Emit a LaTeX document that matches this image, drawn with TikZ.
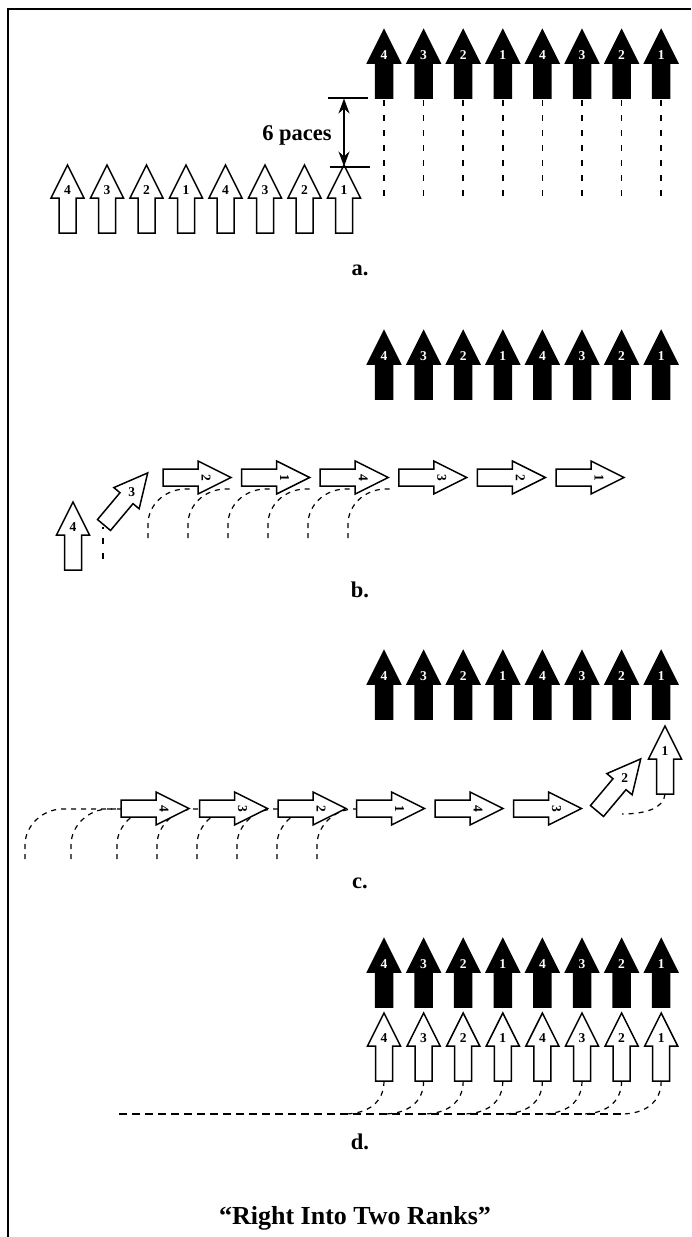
\documentclass[tikz,border=0pt]{standalone}
\usepackage{fontspec}
\setmainfont{Liberation Serif}
\usetikzlibrary{arrows.meta}
\tikzset{
  pics/soldier/.style n args={3}{code={
    \path[#1] (0,0) -- (-8.5,0) -- (-8.5,-35) -- (-16.5,-35) -- (0,-68)
      -- (16.5,-35) -- (8.5,-35) -- (8.5,0) -- cycle;
    \coordinate (-tail) at (0,0);
    \node[#2] (-num) at (0,-43) {#3};
  }},
  solbase/.style={line width=1.5pt, line join=miter, draw=black},
  wsol/.style={solbase, fill=white},
  bsol/.style={solbase, fill=black},
  wdig/.style={font=\bfseries\fontsize{13.5}{13.5}\selectfont, text=black, inner sep=0pt},
  bdig/.style={font=\bfseries\fontsize{13.5}{13.5}\selectfont, text=white, inner sep=0pt},
  guide/.style={line width=1.6pt, dash pattern=on 6pt off 9pt},
  track/.style={line width=1.2pt, dash pattern=on 5pt off 5pt},
  baseline/.style={line width=1.4pt, dash pattern=on 8pt off 5pt},
  panellabel/.style={font=\bfseries\fontsize{22.5}{26}\selectfont, inner sep=0pt},
  titlelabel/.style={font=\bfseries\fontsize{26}{30}\selectfont, inner sep=0pt},
  frameline/.style={line width=2pt},
  dimtip/.style={line width=1.6pt, {Stealth[length=15pt,width=11pt]}-{Stealth[length=15pt,width=11pt]}},
}
\begin{document}
\begin{tikzpicture}[x=1pt,y=-1pt]
\useasboundingbox (0,0) rectangle (691,1237);
% frame
\coordinate (fbl) at (7.5,1237);
\coordinate (ftl) at (7.5,8.5);
\coordinate (ftr) at (691,8.5);
\draw[frameline] (fbl) -- (ftl) -- (ftr);

% ---------- panel a ----------
\foreach \i/\n in {0/4,1/3,2/2,3/1,4/4,5/3,6/2,7/1}{
  \coordinate (ag\i) at ({384+39.6*\i},100);
  \coordinate (ah\i) at ({384+39.6*\i},197);
  \draw[guide] (ag\i) -- (ah\i);
  \pic (ab\i) at ({384+39.6*\i},98) {soldier={bsol}{bdig}{\n}};
  \pic (aw\i) at ({67.5+39.5*\i},233) {soldier={wsol}{wdig}{\n}};
}
\coordinate (t1a) at (328,98);  \coordinate (t1b) at (368,98);
\coordinate (t2a) at (330,167); \coordinate (t2b) at (370,167);
\draw[line width=1.3pt] (t1a) -- (t1b);
\draw[line width=1.3pt] (t2a) -- (t2b);
\coordinate (dm1) at (344,98.5);
\coordinate (dm2) at (344,166.5);
\draw[dimtip] (dm1) -- (dm2);
\node[panellabel] (paces) at (297,135) {6 paces};
\node[panellabel] (la) at (360,270) {a.};

% ---------- panel b ----------
\foreach \i/\n in {0/4,1/3,2/2,3/1,4/4,5/3,6/2,7/1}{
  \pic (bb\i) at ({384+39.6*\i},399) {soldier={bsol}{bdig}{\n}};
}
\foreach \k in {0,...,5}{
  \draw[track] ({148+40*\k},538) -- ({148+40*\k},524)
    .. controls ({148+40*\k},505) and ({165+40*\k},489) .. ({186+40*\k},489)
    -- ({192+40*\k},489);
}
\foreach \k/\n in {0/2,1/1,2/4,3/3,4/2,5/1}{
  \pic[rotate=-90] (bh\k) at ({163+78.6*\k},477.5) {soldier={wsol}{wdig,rotate=-90}{\n}};
}
\coordinate (bv1) at (103,559);
\coordinate (bv2) at (103,527);
\draw[guide] (bv1) -- (bv2);
\pic (bw4) at (73,570) {soldier={wsol}{wdig}{4}};
\pic[rotate=-40] (bd3) at (104,525) {soldier={wsol}{wdig}{3}};
\node[panellabel] (lb) at (360,590) {b.};

% ---------- panel c ----------
\foreach \i/\n in {0/4,1/3,2/2,3/1,4/4,5/3,6/2,7/1}{
  \pic (cb\i) at ({384+39.6*\i},719) {soldier={bsol}{bdig}{\n}};
}
\foreach \x/\e in {25/121,71/121,117/162,157/202,197/242,237/282,277/322,317/362}{
  \draw[track] (\x,859) -- (\x,845)
    .. controls (\x,826) and ({\x+17},809) .. ({\x+38},809) -- (\e,809);
}
\foreach \k/\n in {0/4,1/3,2/2,3/1,4/4,5/3}{
  \pic[rotate=-90] (ch\k) at ({121+78.5*\k},808.5) {soldier={wsol}{wdig,rotate=-90}{\n}};
}
\pic[rotate=-40] (cd2) at (597,811) {soldier={wsol}{wdig}{2}};
\pic (cu1) at (665,794) {soldier={wsol}{wdig}{1}};
\coordinate (cend) at (622,814);
\draw[track] (cu1-tail) .. controls (664,808) and (646,814) .. (cend);
\node[panellabel] (lc) at (360,883) {c.};

% ---------- panel d ----------
\coordinate (dl0) at (119,1114);
\coordinate (dl1) at (621,1114);
\draw[baseline] (dl0) -- (dl1);
\foreach \i/\n in {0/4,1/3,2/2,3/1,4/4,5/3,6/2,7/1}{
  \coordinate (dj\i) at ({384+39.6*\i-40},1114);
  \pic (db\i) at ({384+39.6*\i},1007) {soldier={bsol}{bdig}{\n}};
  \pic (dw\i) at ({384+39.6*\i},1081) {soldier={wsol}{wdig}{\n}};
  \draw[track] (dw\i-tail) .. controls ({384+39.6*\i},1103) and ({384+39.6*\i-17},1114) .. (dj\i);
}
\node[panellabel] (ld) at (360,1142) {d.};
\node[titlelabel] (title) at (355,1218) {“Right Into Two Ranks”};
\end{tikzpicture}
\end{document}
